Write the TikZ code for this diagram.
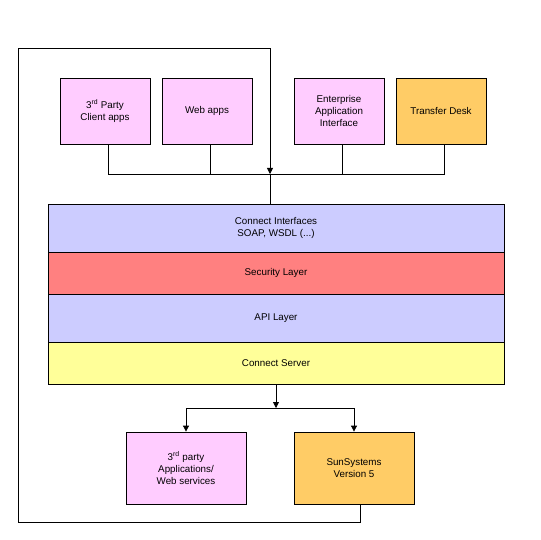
\documentclass[tikz,border=0pt]{standalone}
\usepackage{fontspec}
\setmainfont{Liberation Sans}
\usetikzlibrary{arrows.meta}
\usetikzlibrary{positioning}

\definecolor{appPink}{HTML}{FFCCFF}
\definecolor{appOrange}{HTML}{FFCC66}
\definecolor{layerBlue}{HTML}{CCCCFF}
\definecolor{layerRed}{HTML}{FF8080}
\definecolor{layerYellow}{HTML}{FFFF99}

\begin{document}
\begin{tikzpicture}[x=1pt,y=-1pt,line width=0.8pt,>={Triangle[length=6pt,width=6pt]},
    every node/.style={font=\fontsize{9.8}{11.8}\selectfont,align=center,inner sep=0pt},
    app/.style={draw,minimum width=90pt,minimum height=66pt},
    target/.style={draw,minimum width=120pt,minimum height=72pt},
    layer/.style={draw,minimum width=456pt}]
    \useasboundingbox (0,0) rectangle (540,540);

    \node[app,fill=appPink] (client) at (105,111) {3\textsuperscript{rd} Party\\Client apps};
    \node[app,fill=appPink] (webapps) at (207,111) {Web apps};
    \node[app,fill=appPink] (eai) at (339,111) {Enterprise\\Application\\Interface};
    \node[app,fill=appOrange] (transfer) at (441,111) {Transfer Desk};

    \node[layer,fill=layerBlue,minimum height=48pt] (interfaces) at (276,228) {Connect Interfaces\\SOAP, WSDL (...)};
    \node[layer,fill=layerRed,minimum height=42pt] (security) at (276,273) {Security Layer};
    \node[layer,fill=layerBlue,minimum height=48pt] (api) at (276,318) {API Layer};
    \node[layer,fill=layerYellow,minimum height=42pt] (server) at (276,363) {Connect Server};

    \node[target,fill=appPink] (thirdparty) at (186,468) {3\textsuperscript{rd} party\\Applications/\\Web services};
    \node[target,fill=appOrange] (sunsystems) at (354,468) {SunSystems\\Version 5};

    \coordinate (bus) at (270,174);
    \coordinate (split) at (276,408);
    \coordinate (loopbl) at (18,522);
    \coordinate (looptl) at (18,48);

    % clients onto the bus
    \draw ([xshift=3pt]client.south) |- ([xshift=3pt]transfer.south |- bus) -- ([xshift=3pt]transfer.south);
    \draw ([xshift=3pt]webapps.south) -- ([xshift=3pt]webapps.south |- bus);
    \draw ([xshift=3pt]eai.south) -- ([xshift=3pt]eai.south |- bus);
    \draw (bus) -- (interfaces.north -| bus);

    % server out to the back ends
    \draw[->] (server.south) -- (split);
    \draw[->] (split) -| (thirdparty.north);
    \draw[->] (split) -| (sunsystems.north);

    % loop back round
    \draw[->] ([xshift=6pt]sunsystems.south) |- (loopbl) -- (looptl) -| (bus);
\end{tikzpicture}
\end{document}
